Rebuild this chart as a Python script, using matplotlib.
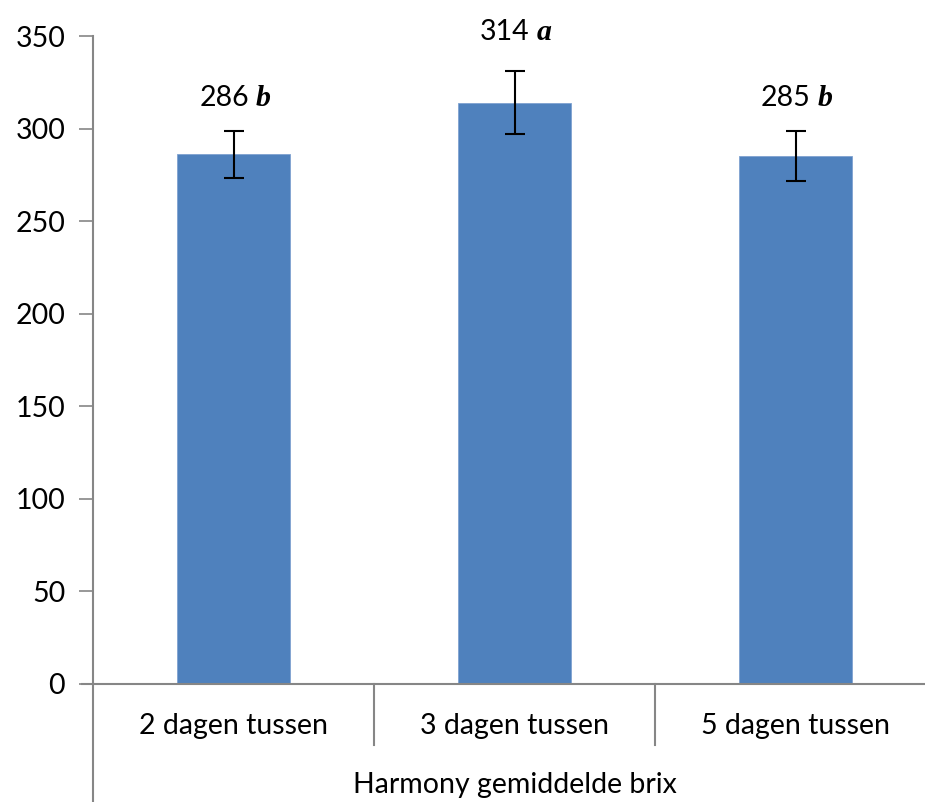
import matplotlib.pyplot as plt

# data
categories = ['2 dagen tussen', '3 dagen tussen', '5 dagen tussen']
means = [286, 314, 285]
errors = [12.5, 17, 13.5]
letters = ['b', 'a', 'b']
group_label = 'Harmony gemiddelde brix'
yticks = [0, 50, 100, 150, 200, 250, 300, 350]

plt.rcParams['font.family'] = ['Lato', 'DejaVu Sans']
axis_grey = '#868686'
fs = 20.5

fig = plt.figure(figsize=(9.25, 8.02), dpi=100)
ax = fig.add_axes([93 / 925, 118 / 802, 832 / 925, 648 / 802])

x = list(range(len(categories)))
ax.bar(x, means, width=0.4, color='#4F81BD', edgecolor='#7FA2D0', linewidth=0.6, zorder=2)
ax.errorbar(x, means, yerr=errors, fmt='none', ecolor='black', elinewidth=1.5,
            capsize=7, capthick=1.5, zorder=3)

# value labels with italic letter
label_lift = [24, 28, 24]  # points above the error bar
for xi, m, e, let, lift in zip(x, means, errors, letters, label_lift):
    ax.annotate(f'{m}', xy=(xi, m + e), xytext=(11, lift), textcoords='offset points',
                ha='right', va='center', fontsize=fs, annotation_clip=False)
    ax.annotate(let, xy=(xi, m + e), xytext=(16, lift), textcoords='offset points',
                ha='left', va='center', fontsize=fs + 1, fontweight='bold', style='italic',
                family='Liberation Serif', annotation_clip=False)

ax.set_ylim(0, 350)
ax.set_xlim(-0.5, -0.5 + 832 / 281)
ax.set_yticks(yticks)
ax.tick_params(axis='y', labelsize=fs, length=10, width=1.2, color=axis_grey, pad=10)
ax.set_xticks([])

for s in ['top', 'right', 'left']:
    ax.spines[s].set_visible(False)
ax.spines['bottom'].set_color(axis_grey)
ax.spines['bottom'].set_linewidth(1.5)

# left axis line running down through the label area
trans = ax.get_xaxis_transform()
ax.plot([-0.5, -0.5], [-0.2, 1.0], transform=trans, color=axis_grey, lw=1.5, clip_on=False)
ax.plot([-0.54, -0.5], [0, 0], transform=trans, color=axis_grey, lw=1.5, clip_on=False)
# category dividers
for d in [0.5, 1.5]:
    ax.plot([d, d], [0, -0.094], transform=trans, color=axis_grey, lw=1.5, clip_on=False)

for xi, c in zip(x, categories):
    ax.text(xi, -42 / 648, c, transform=trans, ha='center', va='center', fontsize=fs)
ax.text(1, -101 / 648, group_label, transform=trans, ha='center', va='center', fontsize=fs)

fig.savefig('out.png', dpi=100)
